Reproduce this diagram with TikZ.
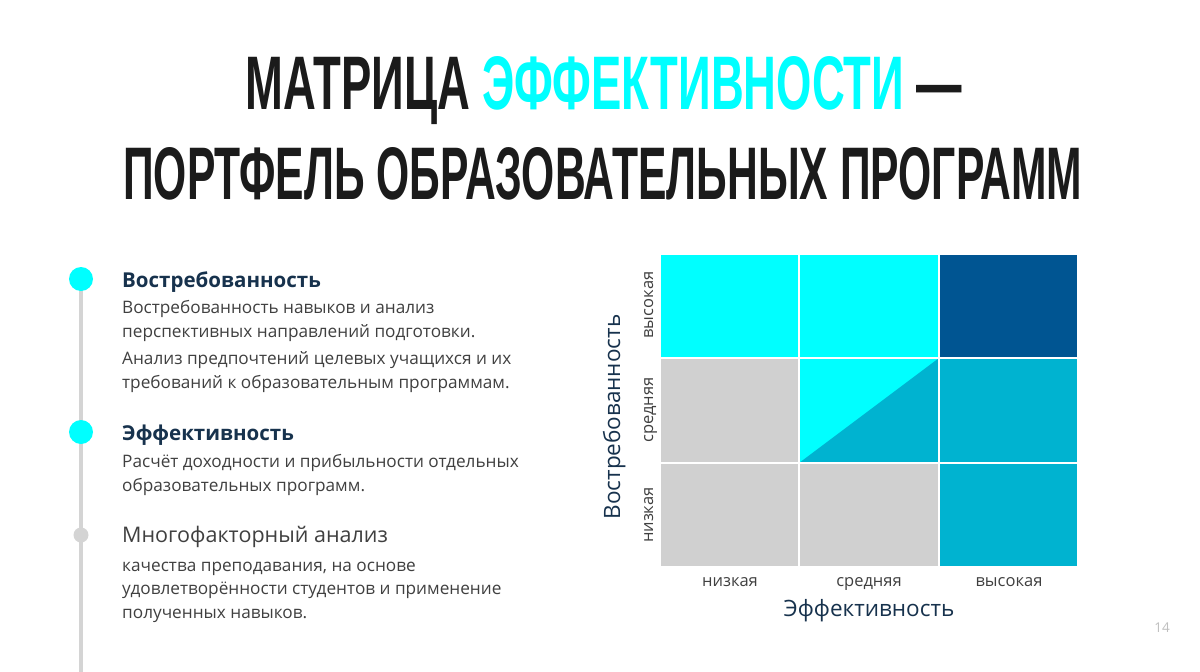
\documentclass[tikz,border=0pt]{standalone}
\usepackage{fontspec}
\setmainfont{Open Sans}
\newfontfamily\titlefont{Liberation Sans}
\usetikzlibrary{positioning}
\definecolor{ink}{HTML}{1B1B1B}
\definecolor{aqua}{HTML}{00FFFF}
\definecolor{navy}{HTML}{17324D}
\definecolor{bodygray}{HTML}{404040}
\definecolor{railgray}{HTML}{D4D4D4}
\definecolor{deepblue}{HTML}{005592}
\definecolor{midteal}{HTML}{00B3D0}
\definecolor{cellgray}{HTML}{D0D0D0}
\definecolor{pagegray}{HTML}{BFBFBF}
\tikzset{
  titleline/.style={anchor=base west, inner sep=0, text=ink, font=\titlefont\bfseries},
  heading/.style={anchor=base west, inner sep=0, text=navy, font=\fontsize{20.5}{25}\selectfont\bfseries},
  bodytext/.style={anchor=base west, inner sep=0, align=left, text=bodygray, font=\fontsize{17.2}{23.5}\selectfont},
  dot/.style={circle, fill=aqua, minimum size=24pt, inner sep=0},
  cell/.style={draw=white, line width=2pt},
  ticklabel/.style={anchor=base, inner sep=0, text=bodygray, font=\fontsize{16.5}{18}\selectfont},
  axistitle/.style={anchor=base, inner sep=0, text=navy, font=\fontsize{22.5}{26}\selectfont}
}
\begin{document}
\begin{tikzpicture}[x=1pt, y=-1pt]
  \useasboundingbox[fill=white] (0,0) rectangle (1200,672);

  \node[titleline] (title1) at (245,109)
    {\resizebox{717pt}{53pt}{МАТРИЦА \textcolor{aqua}{ЭФФЕКТИВНОСТИ} —}};
  \node[titleline] (title2) at (123,199)
    {\resizebox{959pt}{52pt}{ПОРТФЕЛЬ ОБРАЗОВАТЕЛЬНЫХ ПРОГРАММ}};

  \coordinate (railtop) at (81,279);
  \coordinate (railend) at (81,672);
  \draw[railgray, line width=4pt] (railtop) -- (railend);
  \node[dot] (dot1) at (81,279) {};
  \node[dot] (dot2) at (81,432) {};
  \node[dot, fill=railgray, minimum size=15pt] (dot3) at (81,535) {};

  \node[heading] (demand) at (122,287) {Востребованность};
  \node[bodytext] (demand1) at (122,337) {Востребованность навыков и анализ\\перспективных направлений подготовки.};
  \node[bodytext] (demand2) at (122,388) {Анализ предпочтений целевых учащихся и их\\требований к образовательным программам.};
  \node[heading] (effect) at (122,440) {Эффективность};
  \node[bodytext] (effect1) at (122,491) {Расчёт доходности и прибыльности отдельных\\образовательных программ.};
  \node[bodytext, font=\fontsize{21.5}{26}\selectfont] (multi) at (122,542) {Многофакторный анализ};
  \node[bodytext] (multi1) at (122,618) {качества преподавания, на основе\\удовлетворённости студентов и применение\\полученных навыков.};

  \fill[aqua, cell] (660,254) rectangle (799,358);
  \fill[aqua, cell] (799,254) rectangle (939,358);
  \fill[deepblue, cell] (939,254) rectangle (1078,358);
  \fill[cellgray, cell] (660,358) rectangle (799,463);
  \fill[aqua] (799,358) rectangle (939,463);
  \fill[midteal] (799,463) -- (939,358) -- (939,463) -- cycle;
  \draw[cell] (799,358) rectangle (939,463);
  \fill[midteal, cell] (939,358) rectangle (1078,463);
  \fill[cellgray, cell] (660,463) rectangle (799,567);
  \fill[cellgray, cell] (799,463) rectangle (939,567);
  \fill[midteal, cell] (939,463) rectangle (1078,567);

  \node[ticklabel, rotate=90] (rowhigh) at (653,305) {высокая};
  \node[ticklabel, rotate=90] (rowmid) at (653,410) {средняя};
  \node[ticklabel, rotate=90] (rowlow) at (653,515) {низкая};
  \node[axistitle, rotate=90] (ytitle) at (620,417) {Востребованность};
  \node[ticklabel] (collow) at (730,586) {низкая};
  \node[ticklabel] (colmid) at (869,586) {средняя};
  \node[ticklabel] (colhigh) at (1009,586) {высокая};
  \node[axistitle] (xtitle) at (869,616) {Эффективность};

  \node[inner sep=0, text=pagegray, font=\fontsize{13.5}{16}\selectfont] (pagenum) at (1162,628) {14};
\end{tikzpicture}
\end{document}
